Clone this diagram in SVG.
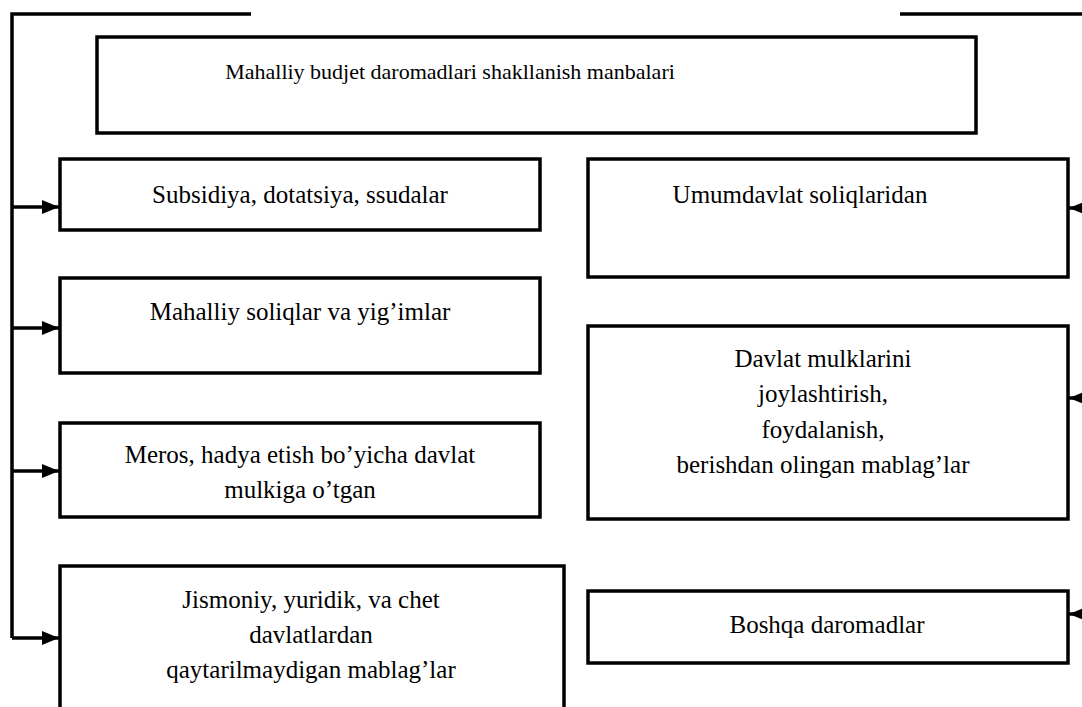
<svg xmlns="http://www.w3.org/2000/svg" width="1082" height="707" viewBox="0 0 1082 707">
<style>
.box{fill:#fff;stroke:#000;stroke-width:3.5}
.ln{fill:none;stroke:#000;stroke-width:3.5}
text{font-family:"Liberation Serif","DejaVu Serif",serif;font-size:25px;fill:#000;text-anchor:middle}
text.t{font-size:22px}
</style>
<defs>
<marker id="ah" markerWidth="18" markerHeight="16" refX="17" refY="8" orient="auto" markerUnits="userSpaceOnUse">
<path d="M0,1 L17,8 L0,15 Z" fill="#000"/>
</marker>
</defs>
<rect width="1082" height="707" fill="#fff"/>
<g id="connectors">
<path class="ln" d="M251,14 H12 V638"/>
<path class="ln" d="M900,14 H1082"/>
<path class="ln" d="M12,207 H59" marker-end="url(#ah)"/>
<path class="ln" d="M12,328 H59" marker-end="url(#ah)"/>
<path class="ln" d="M12,471 H59" marker-end="url(#ah)"/>
<path class="ln" d="M12,638 H59" marker-end="url(#ah)"/>
<path class="ln" d="M1090,208 H1069" marker-end="url(#ah)"/>
<path class="ln" d="M1090,398 H1069" marker-end="url(#ah)"/>
<path class="ln" d="M1090,614 H1069" marker-end="url(#ah)"/>
</g>
<g id="title">
<rect class="box" x="97" y="37" width="879" height="96"/>
<text class="t" x="450" y="79">Mahalliy budjet daromadlari shakllanish manbalari</text>
</g>
<g id="subsidiya">
<rect class="box" x="60" y="159" width="480" height="71"/>
<text x="300" y="203">Subsidiya, dotatsiya, ssudalar</text>
</g>
<g id="mahalliy">
<rect class="box" x="60" y="278" width="480" height="95"/>
<text x="300" y="320">Mahalliy soliqlar va yig’imlar</text>
</g>
<g id="meros">
<rect class="box" x="60" y="423" width="480" height="94"/>
<text x="300" y="463">Meros, hadya etish bo’yicha davlat</text>
<text x="300" y="498">mulkiga o’tgan</text>
</g>
<g id="jismoniy">
<rect class="box" x="60" y="566" width="504" height="150"/>
<text x="311" y="608">Jismoniy, yuridik, va chet</text>
<text x="311" y="643">davlatlardan</text>
<text x="311" y="678">qaytarilmaydigan mablag’lar</text>
</g>
<g id="umumdavlat">
<rect class="box" x="588" y="159" width="480" height="118"/>
<text x="800" y="203">Umumdavlat soliqlaridan</text>
</g>
<g id="davlat">
<rect class="box" x="588" y="326" width="480" height="193"/>
<text x="823" y="367">Davlat mulklarini</text>
<text x="823" y="402">joylashtirish,</text>
<text x="823" y="438">foydalanish,</text>
<text x="823" y="473">berishdan olingan mablag’lar</text>
</g>
<g id="boshqa">
<rect class="box" x="588" y="591" width="480" height="72"/>
<text x="827" y="633">Boshqa daromadlar</text>
</g>
</svg>
